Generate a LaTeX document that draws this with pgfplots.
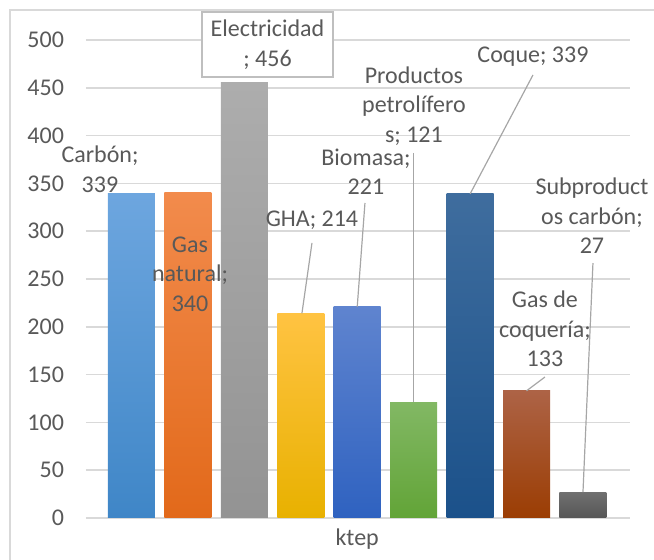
\documentclass[border=0pt]{standalone}
\usepackage{fontspec}
\setmainfont{Carlito}
\usepackage{pgfplots}
\pgfplotsset{compat=1.18}
\definecolor{txt}{HTML}{595959}
\definecolor{gridc}{HTML}{D9D9D9}
\definecolor{lead}{HTML}{A6A6A6}
\definecolor{boxc}{HTML}{BFBFBF}
\tikzset{lbl/.style={text=txt, align=center, inner sep=0pt, font=\fontsize{12}{14.8}\selectfont}}
\begin{document}
\begin{tikzpicture}[font=\fontsize{12}{14.8}\selectfont]
\useasboundingbox (0,0) rectangle (327pt,280pt);
\draw[gridc, line width=0.75pt] (5pt,0pt) -- (5pt,275pt) -- (330pt,275pt);
\begin{axis}[
  at={(43pt,21pt)}, anchor=south west, scale only axis,
  width=272pt, height=239pt,
  xmin=-0.806, xmax=8.833, ymin=0, ymax=500,
  ytick={0,50,...,500}, xtick={4}, xticklabels={ktep},
  axis line style={draw=none}, major tick length=0pt,
  ymajorgrids, grid style={gridc, line width=0.75pt},
  ticklabel style={text=txt, font=\fontsize{12}{14.8}\selectfont},
  /pgf/number format/assume math mode=true,
  yticklabel style={xshift=-7.5pt},
  xticklabel style={yshift=-2pt},
  clip=false,
]
\addplot[ybar, bar shift=0pt, bar width=0.833, draw=none, top color={rgb,255:red,109;green,166;blue,223}, bottom color={rgb,255:red,63;green,134;blue,199}] coordinates {(0,339)};
\addplot[ybar, bar shift=0pt, bar width=0.833, draw=none, top color={rgb,255:red,242;green,139;blue,76}, bottom color={rgb,255:red,226;green,105;blue,26}] coordinates {(1,340)};
\addplot[ybar, bar shift=0pt, bar width=0.833, draw=none, top color={rgb,255:red,173;green,173;blue,173}, bottom color={rgb,255:red,147;green,147;blue,147}] coordinates {(2,456)};
\addplot[ybar, bar shift=0pt, bar width=0.833, draw=none, top color={rgb,255:red,255;green,195;blue,66}, bottom color={rgb,255:red,232;green,177;blue,0}] coordinates {(3,214)};
\addplot[ybar, bar shift=0pt, bar width=0.833, draw=none, top color={rgb,255:red,95;green,132;blue,207}, bottom color={rgb,255:red,47;green,98;blue,192}] coordinates {(4,221)};
\addplot[ybar, bar shift=0pt, bar width=0.833, draw=none, top color={rgb,255:red,130;green,184;blue,100}, bottom color={rgb,255:red,98;green,164;blue,55}] coordinates {(5,121)};
\addplot[ybar, bar shift=0pt, bar width=0.833, draw=none, top color={rgb,255:red,63;green,109;blue,158}, bottom color={rgb,255:red,27;green,81;blue,138}] coordinates {(6,339)};
\addplot[ybar, bar shift=0pt, bar width=0.833, draw=none, top color={rgb,255:red,173;green,99;blue,70}, bottom color={rgb,255:red,155;green,61;blue,3}] coordinates {(7,133)};
\addplot[ybar, bar shift=0pt, bar width=0.833, draw=none, top color={rgb,255:red,112;green,112;blue,112}, bottom color={rgb,255:red,86;green,86;blue,86}] coordinates {(8,27)};
% leader lines
\draw[lead, line width=0.6pt] (axis cs:3.198,287.7) -- (axis cs:3.02,214);
\draw[lead, line width=0.6pt] (axis cs:4.137,329.5) -- (axis cs:4.0,221);
\draw[lead, line width=0.6pt] (axis cs:5.0,381.8) -- (axis cs:5.0,121);
\draw[lead, line width=0.6pt] (axis cs:7.114,463.4) -- (axis cs:6.0,339);
\draw[lead, line width=0.6pt] (axis cs:7.326,147.5) -- (axis cs:7.0,133);
\draw[lead, line width=0.6pt] (axis cs:8.177,266.7) -- (axis cs:8.0,27);
% data labels
\node[lbl] at (axis cs:-0.558,365) {Carbón;\\339};
\node[lbl] at (axis cs:1.037,255) {Gas\\natural;\\340};
\node[lbl, draw=boxc, fill=white, line width=0.75pt, minimum width=65.5pt, minimum height=32.5pt] at (axis cs:2.41,495.3) {Electricidad\\; 456};
\node[lbl] at (axis cs:3.198,311.7) {GHA; 214};
\node[lbl] at (axis cs:4.155,362) {Biomasa;\\221};
\node[lbl] at (axis cs:5.005,431) {Productos\\petrolífero\\s; 121};
\node[lbl] at (axis cs:7.114,482.2) {Coque; 339};
\node[lbl] at (axis cs:7.326,197.7) {Gas de\\coquería;\\133};
\node[lbl] at (axis cs:8.159,316) {Subproduct\\os carbón;\\27};
\end{axis}
\end{tikzpicture}
\end{document}
